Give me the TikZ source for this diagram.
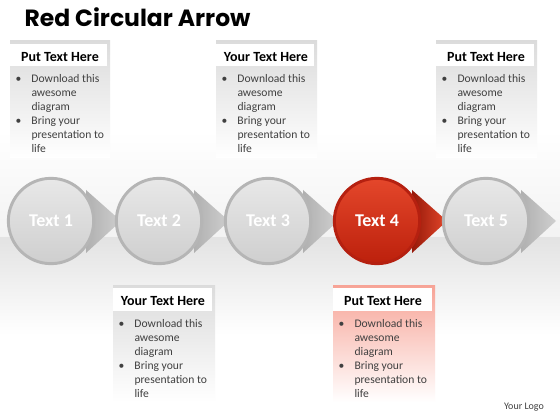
\documentclass[tikz,border=0pt]{standalone}
\usepackage{fontspec}
\setmainfont{Carlito}
\newfontfamily\titlefont{Poppins}
\usetikzlibrary{positioning}

\definecolor{redrim}{HTML}{B52010}
\definecolor{redtop}{HTML}{E4472B}
\definecolor{redbot}{HTML}{BC200C}
\definecolor{redbox}{HTML}{F7A396}
\definecolor{bodytext}{HTML}{404040}

\newcommand{\bulletlist}{\begin{tabular}[t]{@{}p{12pt}@{}l@{}}%
\textbullet & Download this\\ & awesome\\ & diagram\\
\textbullet & Bring your\\ & presentation to\\ & life
\end{tabular}}

\tikzset{every picture/.style={line width=0.75pt}}
\tikzset{
  ball/.style={circle, minimum size=64pt, inner sep=0pt, draw=gray!58, line width=2.2pt,
    top color=gray!18, bottom color=gray!38, text=white,
    font=\fontsize{13.5}{14}\selectfont\bfseries},
  redball/.style={ball, draw=redrim, top color=redtop, bottom color=redbot},
  head/.style={inner sep=0.75pt, font=\fontsize{10.5}{12}\selectfont\bfseries},
  body/.style={anchor=base west, inner sep=0pt, text=bodytext,
    font=\fontsize{8.7}{10.5}\selectfont}
}

\begin{document}
\begin{tikzpicture}[x=0.75pt,y=0.75pt,yscale=-1,xscale=1]
\useasboundingbox (0,0) rectangle (560,420);

% background
\fill[white] (0,0) rectangle (560,420);
\shade[top color=white, bottom color=gray!10] (0,130) rectangle (560,238);
\shade[top color=gray!22, bottom color=white] (0,238) rectangle (560,335);

% title
\node[anchor=west, inner sep=0pt, font=\titlefont\bfseries\fontsize{17.6}{21}\selectfont] (title) at (24,17) {Red Circular Arrow};

% arrow heads behind the circles
\foreach \x in {51,159,268}
  \shade[left color=gray!62, right color=gray!38] (\x+35,190) -- (\x+70,221) -- (\x+35,253) -- cycle;
\shade[left color=redbot!80!black, right color=redtop] (412,190) -- (447,221) -- (412,253) -- cycle;
\shade[left color=gray!62, right color=gray!38] (521,190) -- (556,221) -- (521,253) -- cycle;

% circles
\node[ball] (c1) at (51,221) {Text 1};
\node[ball] (c2) at (159,221) {Text 2};
\node[ball] (c3) at (268,221) {Text 3};
\node[redball] (c4) at (377,221) {Text 4};
\node[ball] (c5) at (486,221) {Text 5};

% upper text boxes
\shade[top color=gray!28, bottom color=white] (10,41) rectangle (110,158);
\fill[white] (10,44) rectangle (107,66);
\shade[top color=gray!28, bottom color=white] (216,41) rectangle (317,158);
\fill[white] (216,44) rectangle (314,66);
\shade[top color=gray!28, bottom color=white] (436,41) rectangle (537,158);
\fill[white] (436,44) rectangle (534,66);

\node[head] (hd1) at (60,57) {Put Text Here};
\node[body] (bd1) at (15,83) {\bulletlist};
\node[head] (hd2) at (266,57) {Your Text Here};
\node[body] (bd2) at (221,83) {\bulletlist};
\node[head] (hd3) at (486,57) {Put Text Here};
\node[body] (bd3) at (441,83) {\bulletlist};

% lower text boxes
\shade[top color=gray!28, bottom color=white] (113,285) rectangle (215,402);
\fill[white] (113,288) rectangle (212,311);
\shade[top color=redbox, bottom color=white] (333,285) rectangle (435,402);
\fill[white] (333,288) rectangle (432,311);

\node[head] (hd4) at (163,301) {Your Text Here};
\node[body] (bd4) at (118,327) {\bulletlist};
\node[head] (hd5) at (383,301) {Put Text Here};
\node[body] (bd5) at (338,327) {\bulletlist};

% logo
\node[inner sep=0pt, text=bodytext, font=\fontsize{7.5}{9}\selectfont] (logo) at (524,407) {Your Logo};

\end{tikzpicture}
\end{document}
